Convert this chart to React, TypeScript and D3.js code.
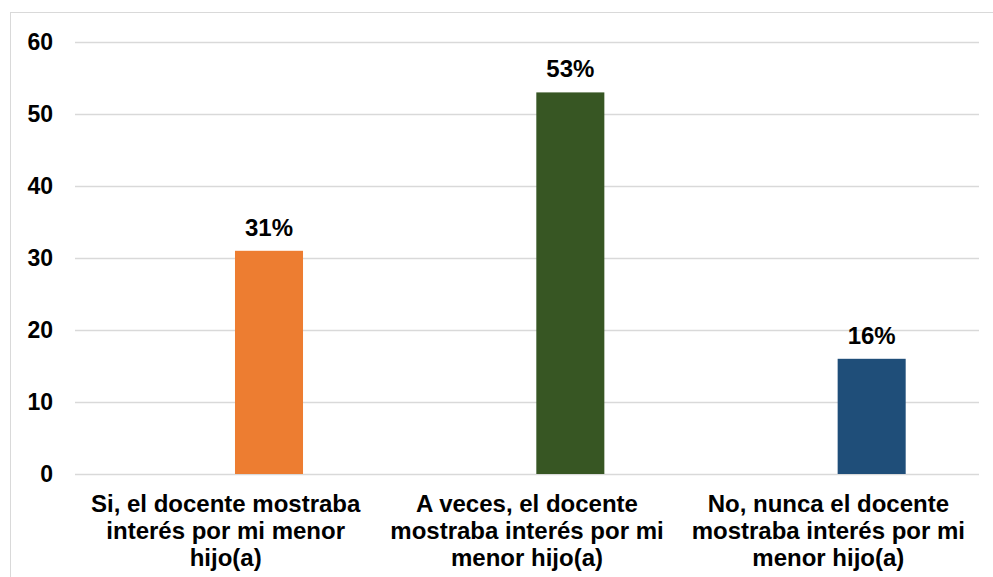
import React from 'react';
import * as d3 from 'd3';

const categories = [
  'Si, el docente mostraba interés por mi menor hijo(a)',
  'A veces, el docente mostraba interés por mi menor hijo(a)',
  'No, nunca el docente mostraba interés por mi menor hijo(a)',
];
// the source chart has an empty first series, which pushes the bars right
const seriesNames = ['(vacía)', 'Porcentaje'];
const values = [31, 53, 16];
const barColors = ['#ED7D31', '#375623', '#1F4E79'];
const yTicks = [0, 10, 20, 30, 40, 50, 60];

const font = '"Liberation Sans", Arial, sans-serif';

const App: React.FC = () => {
  const svgRef = React.useRef<SVGSVGElement>(null);
  const width = 993;
  const height = 577;
  const margin = { top: 42, right: 14, bottom: 103, left: 75 };

  React.useEffect(() => {
    const innerW = width - margin.left - margin.right;
    const innerH = height - margin.top - margin.bottom;

    const xScale = d3.scaleBand().domain(categories).range([0, innerW]).padding(0);
    const xSub = d3
      .scaleBand()
      .domain(seriesNames)
      .range([0, xScale.bandwidth()])
      .paddingInner(0.215)
      .paddingOuter(0.846);
    const yScale = d3.scaleLinear().domain([0, 60]).range([innerH, 0]);

    const svgEl = d3.select(svgRef.current);
    svgEl.selectAll('*').remove();

    // chart area border (only left and top show in the crop)
    svgEl
      .append('rect')
      .attr('x', 10.5)
      .attr('y', 12.5)
      .attr('width', width + 20)
      .attr('height', height + 20)
      .attr('fill', '#fff')
      .attr('stroke', '#d9d9d9')
      .attr('stroke-width', 1);

    const svg = svgEl
      .append('g')
      .attr('transform', `translate(${margin.left},${margin.top})`);

    // gridlines + y labels
    const yAxis = d3
      .axisLeft(yScale)
      .tickValues(yTicks)
      .tickSize(-innerW)
      .tickPadding(22)
      .tickFormat((v) => `${v}`);
    const yAxisGroup = svg.append('g').call(yAxis);
    yAxisGroup.select('.domain').remove();
    yAxisGroup.selectAll('line').attr('stroke', '#d9d9d9').attr('stroke-width', 1.5);
    yAxisGroup
      .selectAll('text')
      .attr('fill', '#000')
      .attr('font-family', font)
      .attr('font-weight', 'bold')
      .attr('font-size', 23);

    // bars
    const bars = svg
      .selectAll('.bar')
      .data(categories)
      .enter()
      .append('g')
      .attr('transform', (d) => `translate(${xScale(d)},0)`);

    bars
      .append('rect')
      .attr('x', xSub(seriesNames[1]) as number)
      .attr('width', xSub.bandwidth())
      .attr('y', (_, i) => yScale(values[i]))
      .attr('height', (_, i) => innerH - yScale(values[i]))
      .attr('fill', (_, i) => barColors[i]);

    bars
      .append('text')
      .attr('x', (xSub(seriesNames[1]) as number) + xSub.bandwidth() / 2)
      .attr('y', (_, i) => yScale(values[i]) - 15)
      .attr('text-anchor', 'middle')
      .attr('font-family', font)
      .attr('font-weight', 'bold')
      .attr('font-size', 24)
      .attr('fill', '#000')
      .text((_, i) => `${values[i]}%`);

    // category labels, wrapped to the band width
    const labels = svg
      .selectAll('.cat')
      .data(categories)
      .enter()
      .append('text')
      .attr('text-anchor', 'middle')
      .attr('font-family', font)
      .attr('font-weight', 'bold')
      .attr('font-size', 24)
      .attr('fill', '#000')
      .attr('transform', (d) => `translate(${(xScale(d) as number) + xScale.bandwidth() / 2},${innerH + 38})`);

    labels.each((d, i, nodes) => {
      const text = d3.select(nodes[i]);
      const words = d.split(' ');
      const maxW = xScale.bandwidth() - 6;
      let line: string[] = [];
      let lineNo = 0;
      let tspan = text.append('tspan').attr('x', 0).attr('y', 0);
      words.forEach((w) => {
        line.push(w);
        tspan.text(line.join(' '));
        if ((tspan.node() as SVGTSpanElement).getComputedTextLength() > maxW && line.length > 1) {
          line.pop();
          tspan.text(line.join(' '));
          line = [w];
          lineNo += 1;
          tspan = text.append('tspan').attr('x', 0).attr('y', lineNo * 27).text(w);
        }
      });
    });
  }, []);

  return (
    <svg
      ref={svgRef}
      width={width}
      height={height}
      style={{ position: 'absolute', left: 0, top: 0, background: '#fff' }}
    />
  );
};

export default App;
